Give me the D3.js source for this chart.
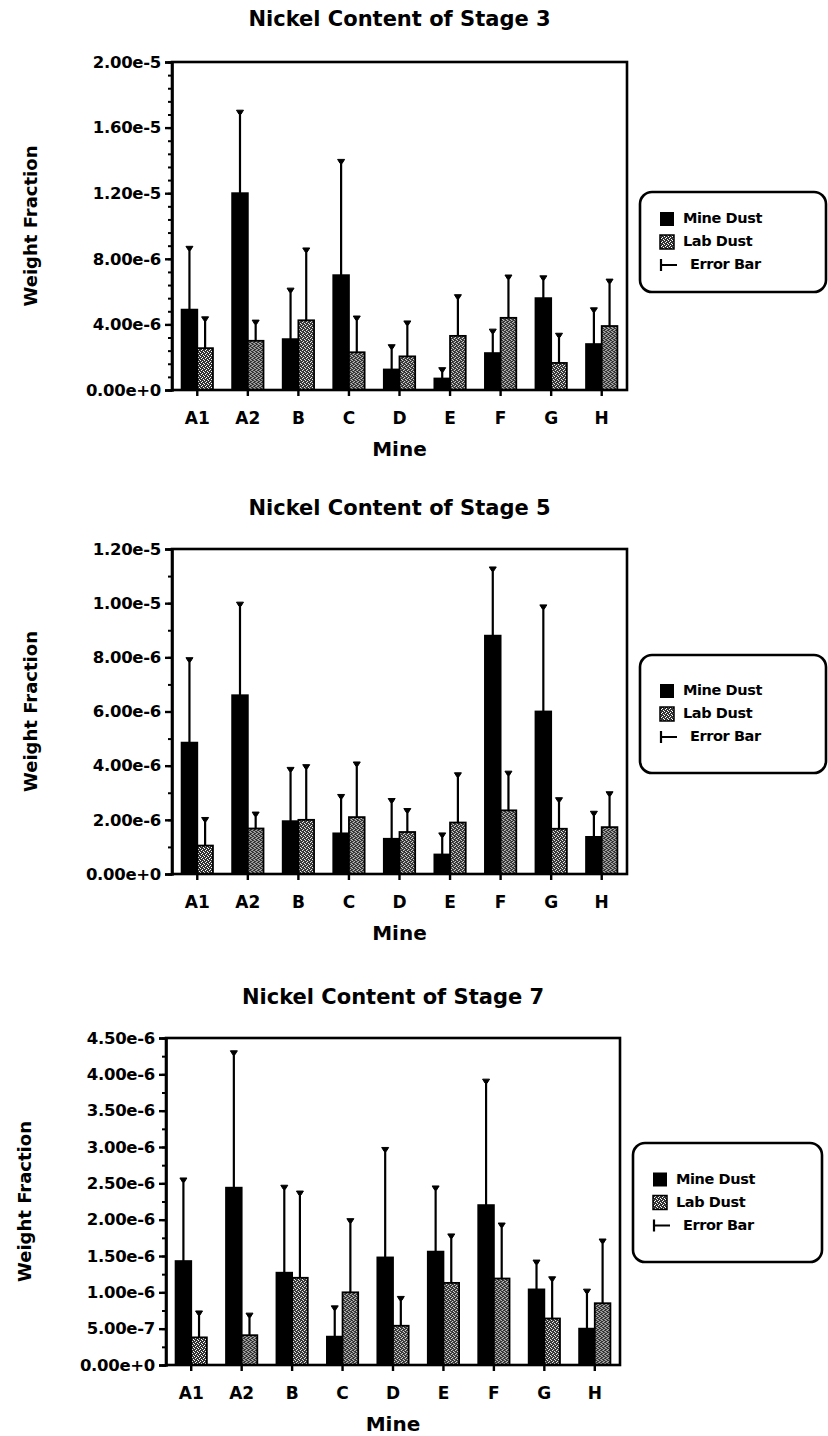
<!doctype html>
<html>
<head>
  <meta charset="utf-8">
  <script src="https://cdnjs.cloudflare.com/ajax/libs/d3/7.8.5/d3.min.js"></script>
  <style>
    body { margin: 0; background: white; }
    text { font-family: 'DejaVu Sans', sans-serif; font-weight: bold; fill: black; }
  </style>
</head>
<body>
  <script>
    // data
    const mines = ['A1', 'A2', 'B', 'C', 'D', 'E', 'F', 'G', 'H'];

    const stage3Mine    = [4.9e-6, 1.2e-5, 3.1e-6, 7.0e-6, 1.25e-6, 0.7e-6, 2.25e-6, 5.6e-6, 2.8e-6];
    const stage3MineTop = [8.7e-6, 1.7e-5, 6.15e-6, 1.4e-5, 2.7e-6, 1.3e-6, 3.65e-6, 6.9e-6, 4.95e-6];
    const stage3Lab     = [2.55e-6, 3.0e-6, 4.25e-6, 2.3e-6, 2.05e-6, 3.3e-6, 4.4e-6, 1.65e-6, 3.9e-6];
    const stage3LabTop  = [4.4e-6, 4.2e-6, 8.6e-6, 4.45e-6, 4.15e-6, 5.75e-6, 6.95e-6, 3.4e-6, 6.7e-6];

    const stage5Mine    = [4.85e-6, 6.6e-6, 1.95e-6, 1.5e-6, 1.3e-6, 0.72e-6, 8.8e-6, 6.0e-6, 1.37e-6];
    const stage5MineTop = [7.95e-6, 1.0e-5, 3.9e-6, 2.9e-6, 2.75e-6, 1.48e-6, 1.13e-5, 9.9e-6, 2.28e-6];
    const stage5Lab     = [1.05e-6, 1.68e-6, 2.0e-6, 2.1e-6, 1.55e-6, 1.9e-6, 2.35e-6, 1.67e-6, 1.73e-6];
    const stage5LabTop  = [2.05e-6, 2.25e-6, 4.0e-6, 4.1e-6, 2.38e-6, 3.7e-6, 3.76e-6, 2.78e-6, 3.0e-6];

    const stage7Mine    = [1.43e-6, 2.44e-6, 1.27e-6, 0.39e-6, 1.48e-6, 1.56e-6, 2.2e-6, 1.04e-6, 0.5e-6];
    const stage7MineTop = [2.56e-6, 4.31e-6, 2.46e-6, 0.8e-6, 2.98e-6, 2.45e-6, 3.92e-6, 1.43e-6, 1.03e-6];
    const stage7Lab     = [0.38e-6, 0.41e-6, 1.2e-6, 1.0e-6, 0.54e-6, 1.13e-6, 1.19e-6, 0.64e-6, 0.85e-6];
    const stage7LabTop  = [0.73e-6, 0.7e-6, 2.38e-6, 2.0e-6, 0.93e-6, 1.79e-6, 1.94e-6, 1.2e-6, 1.72e-6];

    const stage3Ticks = [0, 4e-6, 8e-6, 1.2e-5, 1.6e-5, 2e-5];
    const stage5Ticks = [0, 2e-6, 4e-6, 6e-6, 8e-6, 1e-5, 1.2e-5];
    const stage7Ticks = [0, 5e-7, 1e-6, 1.5e-6, 2e-6, 2.5e-6, 3e-6, 3.5e-6, 4e-6, 4.5e-6];

    const legendLabels = ['Mine Dust', 'Lab Dust', 'Error Bar'];

    const charts = [
      { title: 'Nickel Content of Stage 3', mine: stage3Mine, mineTop: stage3MineTop, lab: stage3Lab, labTop: stage3LabTop,
        ticks: stage3Ticks, minor: 8e-7,
        left: 172, right: 627, top: 62, bottom: 390, titleY: 20, legend: { x: 640, y: 192, w: 186, h: 100 } },
      { title: 'Nickel Content of Stage 5', mine: stage5Mine, mineTop: stage5MineTop, lab: stage5Lab, labTop: stage5LabTop,
        ticks: stage5Ticks, minor: 1e-6,
        left: 172, right: 627, top: 549, bottom: 874, titleY: 509, legend: { x: 640, y: 655, w: 186, h: 118 } },
      { title: 'Nickel Content of Stage 7', mine: stage7Mine, mineTop: stage7MineTop, lab: stage7Lab, labTop: stage7LabTop,
        ticks: stage7Ticks, minor: 2.5e-7,
        left: 166, right: 620, top: 1038, bottom: 1365, titleY: 998, legend: { x: 633, y: 1143, w: 189, h: 119 } }
    ];

    const width = 828, height = 1436;
    const fmt = d3.format('.2e');

    const svg = d3.select('body').append('svg')
      .attr('width', width)
      .attr('height', height);

    // stippled fill for the lab dust bars
    const pat = svg.append('defs').append('pattern')
      .attr('id', 'stipple')
      .attr('width', 4).attr('height', 4)
      .attr('patternUnits', 'userSpaceOnUse');
    pat.append('rect').attr('width', 4).attr('height', 4).attr('fill', '#333');
    [[0, 0], [2, 1], [1, 2], [3, 3]].forEach(p => {
      pat.append('rect').attr('x', p[0]).attr('y', p[1]).attr('width', 1).attr('height', 1).attr('fill', 'white');
    });

    charts.forEach(drawChart);

    function drawChart(c) {
      const g = svg.append('g');
      const ymax = c.ticks[c.ticks.length - 1];

      const x = d3.scaleBand().domain(mines).range([c.left, c.right]);
      const xs = d3.scaleBand().domain(['mine', 'lab']).range([x.bandwidth() * 0.19, x.bandwidth() * 0.81]);
      const y = d3.scaleLinear().domain([0, ymax]).range([c.bottom, c.top]);

      const rows = mines.map((m, i) => ({
        mine: m,
        vals: [
          { key: 'mine', v: c.mine[i], top: c.mineTop[i] },
          { key: 'lab', v: c.lab[i], top: c.labTop[i] }
        ]
      }));

      // title
      g.append('text')
        .attr('x', (c.left + c.right) / 2)
        .attr('y', c.titleY)
        .attr('text-anchor', 'middle')
        .attr('dominant-baseline', 'middle')
        .style('font-size', '21px')
        .text(c.title);

      // bars
      const grp = g.selectAll('.grp').data(rows).join('g')
        .attr('transform', d => `translate(${x(d.mine)},0)`);

      grp.selectAll('line.err').data(d => d.vals).join('line')
        .attr('class', 'err')
        .attr('x1', d => xs(d.key) + xs.bandwidth() / 2)
        .attr('x2', d => xs(d.key) + xs.bandwidth() / 2)
        .attr('y1', d => y(d.v))
        .attr('y2', d => y(d.top))
        .attr('stroke', 'black')
        .attr('stroke-width', 2.2);

      grp.selectAll('path.cap').data(d => d.vals).join('path')
        .attr('class', 'cap')
        .attr('d', d => {
          const cx = xs(d.key) + xs.bandwidth() / 2, cy = y(d.top);
          return `M${cx - 3.5},${cy - 1}L${cx + 3.5},${cy - 1}L${cx + 1},${cy + 3}L${cx - 1},${cy + 3}Z`;
        })
        .attr('fill', 'black')
        .attr('stroke', 'black')
        .attr('stroke-width', 1);

      grp.selectAll('rect.bar').data(d => d.vals).join('rect')
        .attr('class', 'bar')
        .attr('x', d => xs(d.key))
        .attr('width', xs.bandwidth())
        .attr('y', d => y(d.v))
        .attr('height', d => y(0) - y(d.v))
        .attr('fill', d => d.key === 'mine' ? 'black' : 'url(#stipple)')
        .attr('stroke', 'black')
        .attr('stroke-width', 1.8);

      // frame
      g.append('rect')
        .attr('x', c.left).attr('y', c.top)
        .attr('width', c.right - c.left).attr('height', c.bottom - c.top)
        .attr('fill', 'none')
        .attr('stroke', 'black')
        .attr('stroke-width', 2.6);

      // y axis: minor then major ticks
      const minorTicks = d3.range(0, ymax + c.minor / 2, c.minor);
      g.append('g')
        .attr('transform', `translate(${c.left},0)`)
        .call(d3.axisLeft(y).tickValues(minorTicks).tickSize(4).tickFormat(''))
        .call(a => a.select('.domain').remove())
        .call(a => a.selectAll('line').attr('stroke-width', 2));

      const yAxis = g.append('g')
        .attr('transform', `translate(${c.left},0)`)
        .call(d3.axisLeft(y).tickValues(c.ticks).tickSize(7).tickPadding(4).tickFormat(fmt));
      yAxis.select('.domain').attr('stroke-width', 2.6);
      yAxis.selectAll('line').attr('stroke-width', 2.4);
      yAxis.selectAll('text')
        .style('font-size', '16.5px')
        .style('font-family', "'DejaVu Sans', sans-serif")
        .style('font-weight', 'bold')
        .attr('letter-spacing', '-0.3');

      // x axis
      const xAxis = g.append('g')
        .attr('transform', `translate(0,${c.bottom})`)
        .call(d3.axisBottom(x).tickSize(6).tickPadding(16));
      xAxis.select('.domain').remove();
      xAxis.selectAll('line').attr('stroke-width', 2.4);
      xAxis.selectAll('text')
        .style('font-size', '17px')
        .style('font-family', "'DejaVu Sans', sans-serif")
        .style('font-weight', 'bold');

      // axis titles
      g.append('text')
        .attr('x', (c.left + c.right) / 2)
        .attr('y', c.bottom + 66)
        .attr('text-anchor', 'middle')
        .style('font-size', '20px')
        .text('Mine');

      g.append('text')
        .attr('transform', `translate(${c.left - 140},${(c.top + c.bottom) / 2}) rotate(-90)`)
        .attr('text-anchor', 'middle')
        .attr('dominant-baseline', 'middle')
        .style('font-size', '18px')
        .text('Weight Fraction');

      // legend
      const L = c.legend;
      const lg = g.append('g').attr('transform', `translate(${L.x},${L.y})`);
      lg.append('rect')
        .attr('width', L.w).attr('height', L.h)
        .attr('rx', 12).attr('ry', 12)
        .attr('fill', 'none')
        .attr('stroke', 'black')
        .attr('stroke-width', 2.6);

      const rowY = d3.scalePoint().domain(legendLabels).range([L.h / 2 - 23, L.h / 2 + 23]);
      lg.append('rect')
        .attr('x', 20).attr('y', rowY(legendLabels[0]) - 7)
        .attr('width', 14).attr('height', 14)
        .attr('fill', 'black');
      lg.append('rect')
        .attr('x', 20).attr('y', rowY(legendLabels[1]) - 7)
        .attr('width', 14).attr('height', 14)
        .attr('fill', 'url(#stipple)')
        .attr('stroke', 'black').attr('stroke-width', 1.5);
      lg.append('path')
        .attr('d', `M21,${rowY(legendLabels[2]) - 6}V${rowY(legendLabels[2]) + 6}M21,${rowY(legendLabels[2])}H37`)
        .attr('stroke', 'black')
        .attr('stroke-width', 2.2)
        .attr('fill', 'none');

      lg.selectAll('text.leg').data(legendLabels).join('text')
        .attr('class', 'leg')
        .attr('x', (d, i) => i === 2 ? 50 : 43)
        .attr('y', d => rowY(d))
        .attr('dominant-baseline', 'middle')
        .style('font-size', '14.5px')
        .attr('letter-spacing', '-0.4')
        .text(d => d);
    }
  </script>
</body>
</html>
